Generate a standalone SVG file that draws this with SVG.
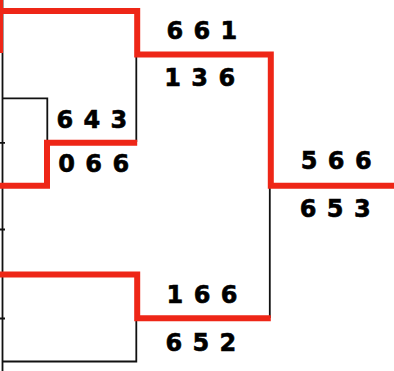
<svg xmlns="http://www.w3.org/2000/svg" width="394" height="371" viewBox="0 0 394 371">
<style>
.bk{fill:none;stroke:#111;stroke-width:1.8}
.rd{fill:none;stroke:#ee2617;stroke-width:6;stroke-linejoin:miter;stroke-linecap:butt}
.lb{font-family:"DejaVu Sans",sans-serif;font-weight:bold;font-size:24px;fill:#000;stroke:#000;stroke-width:0.6;letter-spacing:1px}
</style>
<rect width="394" height="371" fill="#fff"/>
<g id="connectors">
<path class="bk" d="M2.5,0 V371"/>
<path class="bk" d="M0,142.8 H5 M0,229.5 H5 M0,318.5 H5"/>
<path class="bk" d="M2.5,98.3 H47.3 V142"/>
<path class="bk" d="M136.3,54 V142"/>
<path class="bk" d="M269.8,186 V318"/>
<path class="bk" d="M2.5,361.5 H136.3 V318"/>
<rect x="0" y="0" width="3" height="53" fill="#ee2617"/>
<path class="rd" d="M0,11 H137.2 V54.5 H270.8 V185.8 H394"/>
<path class="rd" d="M0,185.8 H47 V142.8 H137.2"/>
<path class="rd" d="M0,274.5 H137.2 V318.3 H270.8"/>
</g>
<g id="node-661-136">
<text class="lb" x="166.5" y="38.6">6 6 1</text>
<text class="lb" x="164.3" y="86">1 3 6</text>
</g>
<g id="node-643-066">
<text class="lb" x="56.5" y="128.4">6 4 3</text>
<text class="lb" x="58.3" y="172.4">0 6 6</text>
</g>
<g id="node-566-653">
<text class="lb" x="300.8" y="169.4">5 6 6</text>
<text class="lb" x="299.8" y="216.8">6 5 3</text>
</g>
<g id="node-166-652">
<text class="lb" x="166.6" y="303.4">1 6 6</text>
<text class="lb" x="165.5" y="351">6 5 2</text>
</g>
</svg>
